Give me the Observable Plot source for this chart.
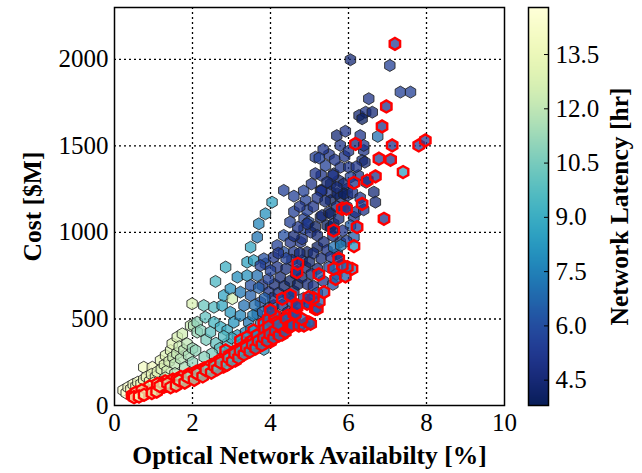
<!DOCTYPE html>
<html><head><meta charset="utf-8">
<script src="https://cdn.jsdelivr.net/npm/d3@7"></script>
<script src="https://cdn.jsdelivr.net/npm/@observablehq/plot@0.6"></script>
<style>
html,body{margin:0;padding:0;background:#fff;}
#wrap{position:relative;width:642px;height:473px;overflow:hidden;}
#main{position:absolute;left:0;top:0;}
#bar{position:absolute;left:520px;top:0;}
svg text{font-family:"Liberation Serif",serif;}
[aria-label$="axis label"] text{font-weight:bold;font-size:25.5px;}
</style></head><body><div id="wrap"><div id="main"></div><div id="bar"></div></div>
<script>
const xTicks = [0, 2, 4, 6, 8, 10];
const yTicks = [0, 500, 1000, 1500, 2000];
const latencyTicks = [4.5, 6.0, 7.5, 9.0, 10.5, 12.0, 13.5];
const latencyDomain = [3.8, 14.8];

// [availability %, cost $M, latency hr] — designs not on the front (black edge)
const dominated = [
  [0.22,88,14.3],[0.3,72,14.5],[0.35,105,14.1],[0.42,95,14.2],[0.48,122,13.9],[0.55,110,13.8],
  [0.6,135,13.7],[0.68,125,13.6],[0.75,150,13.5],[0.75,221,13.9],[0.97,221,13.8],[0.82,165,13.4],
  [0.9,140,13.3],[0.95,180,13.2],[1.05,165,13.0],[1.1,195,12.9],[1.18,260,13.3],[1.2,210,12.8],
  [1.28,235,12.7],[1.31,289,12.9],[1.35,200,12.5],[1.4,255,12.6],[1.44,318,12.8],[1.48,357,13.1],
  [1.5,280,12.3],[1.55,240,12.0],[1.6,300,12.2],[1.61,395,12.7],[1.66,340,12.4],[1.7,270,11.8],
  [1.74,414,12.5],[1.78,320,11.9],[1.86,357,12.0],[1.9,290,11.5],[1.95,462,12.3],[1.99,588,12.8],
  [2.0,330,11.3],[2.03,462,11.6],[2.08,318,11.0],[2.12,424,11.2],[2.12,481,11.0],
  [1.0,130,12.8],[1.3,160,12.2],[1.55,185,11.8],[1.8,220,11.5],[2.0,250,11.0],
  [2.21,434,10.8],[2.29,578,10.2],[2.33,510,10.0],[2.35,380,10.5],[2.46,424,9.8],[2.55,481,9.3],
  [2.55,568,9.6],[2.59,717,9.4],[2.6,360,10.0],[2.72,453,9.0],[2.76,578,8.7],[2.8,636,8.6],
  [2.85,800,9.0],[2.89,434,8.8],[2.97,539,8.2],[2.97,674,8.0],[3.02,617,12.5],[3.06,481,8.1],
  [3.15,405,8.2],[3.15,742,7.9],[3.23,520,7.6],[3.23,655,7.2],[3.32,578,7.0],[3.36,424,7.6],
  [3.40,751,8.0],[3.40,828,8.6],[3.44,481,7.2],[3.49,915,8.7],[3.57,838,8.5],[3.66,973,7.1],
  [3.70,1050,7.6],[3.87,1108,8.0],[4.04,1175,8.6],[2.7,330,9.8],[2.9,360,9.2],[3.0,390,8.8],
  [2.5,300,10.5],[2.3,280,10.8],[2.8,400,9.5],[3.83,324,8.0],[3.3,360,8.5],
  [3.49,636,6.5],[3.49,694,6.0],[3.66,751,7.0],[3.87,819,5.5],[3.79,694,5.0],[3.96,655,5.0],
  [3.74,597,6.0],[3.66,530,6.2],[4.08,578,5.0],[4.17,520,5.5],[3.91,501,5.5],[3.83,848,6.0],
  [3.74,809,5.5],[4.17,800,5.0],[4.08,857,5.0],[4.34,886,6.0],[4.17,925,5.5],[4.34,983,6.0],
  [4.51,944,5.0],[4.60,886,5.0],[4.81,838,5.0],[4.77,944,5.0],[4.81,963,5.0],[4.86,1021,5.5],
  [4.86,1079,5.5],[4.94,886,4.0],[4.98,1060,6.0],[5.03,1002,5.0],[4.94,1050,5.0],[5.15,1031,4.0],
  [5.20,983,4.5],[5.20,915,4.0],[5.20,790,4.5],[5.28,1088,4.5],[5.32,1098,4.5],[5.37,944,4.5],
  [5.45,896,5.0],[5.45,1040,4.0],[5.50,1117,4.5],[5.54,1031,4.0],[5.54,1108,4.0],[5.62,1050,4.5],
  [5.71,877,4.5],[5.79,944,4.5],[4.90,1185,5.5],[4.94,1127,5.5],[5.28,1243,5.0],[5.32,1243,5.0],
  [5.54,1233,5.0],[5.54,1185,4.0],[5.75,1300,4.5],[5.79,1204,4.5],[5.97,1252,5.0],[5.71,1224,4.0],
  [5.97,1214,4.5],[5.54,1281,4.0],[5.88,1281,4.5],[5.62,1339,4.5],[5.41,1387,5.5],[5.79,1377,5.0],
  [5.15,1435,5.5],[5.79,1503,5.0],[4.34,1243,5.5],[6.14,1088,5.0],[6.05,1040,6.5],[6.14,973,6.5],
  [6.18,1117,5.0],[5.88,1224,4.0],[6.65,1233,4.5],[6.69,1175,4.5],[6.39,1131,5.0],[6.39,1474,5.0],
  [6.35,1416,4.5],[6.42,1406,4.5],[5.60,1329,5.0],[6.25,1329,5.0],[6.01,1377,5.0],[5.30,1239,5.0],
  [3.95,560,5.5],[4.05,620,5.0],[4.1,700,4.5],[4.2,650,4.5],[4.25,740,4.5],[4.3,580,5.0],
  [4.35,690,4.2],[4.4,790,4.5],[4.45,640,4.2],[4.5,720,4.0],[4.55,840,4.5],[4.6,660,4.5],
  [4.65,760,4.2],[4.7,700,4.0],[4.75,880,4.5],[4.8,740,4.2],[4.9,800,4.5],[4.95,700,4.5],
  [5.0,830,4.2],[5.05,760,4.5],[5.1,880,4.5],[5.1,690,5.0],[5.3,850,4.5],[5.35,720,5.0],
  [5.5,800,5.5],[5.6,700,6.0],[5.55,860,5.0],[5.7,760,5.5],[3.85,620,6.5],[3.95,730,5.5],
  [4.0,780,5.5],[3.7,680,6.5],[3.6,580,7.0],[3.55,520,7.5],[3.8,540,6.5],[4.0,480,7.0],
  [4.15,460,7.5],[3.75,470,7.5],[4.3,500,6.0],[4.45,540,5.0],[4.55,600,5.5],[4.25,440,7.0],
  [4.5,480,6.5],[3.5,440,8.0],[3.6,400,8.5],[4.6,540,6.0],[4.85,620,5.5],[5.0,590,6.0],
  [5.2,650,6.5],[4.4,850,5.5],[4.2,880,5.0],[4.6,980,4.5],[4.7,1030,5.0],[4.5,1060,5.5],
  [4.6,1120,5.5],[4.75,1150,5.0],[5.1,1150,5.0],[5.2,1200,5.0],[5.4,1180,4.5],[5.7,1150,4.5],
  [5.95,1150,5.0],[5.75,1080,4.5],[5.85,1010,5.0],[5.95,950,5.5],[5.6,980,4.5],[5.7,1260,4.5],
  [5.5,1450,5.0],[5.65,1420,5.0],[5.9,1440,5.0],[6.0,1470,5.0],[5.7,1560,4.5],[6.05,1320,5.5],
  [6.1,1230,5.0],[6.2,1380,5.0],[6.3,1200,5.0],[6.45,1290,4.5],[5.3,1330,5.0],[5.45,1290,4.5],
  [5.35,1480,5.0],[5.25,1430,5.5],[5.15,1340,5.0],[5.05,1280,5.0],[4.85,1240,5.5],[4.6,1210,5.5],
  [6.3,1560,5.0],[5.92,1585,5.0],[6.05,1998,4.5],[7.06,1965,5.5],[7.33,1811,5.5],[7.59,1811,5.5],
  [6.52,1773,5.0],[6.27,1676,4.5],[6.44,1695,5.0],[6.61,1695,4.5],[6.35,1657,4.0],[6.75,1555,7.0],
  [6.39,1503,5.0],[5.62,915,7.0],[5.8,925,7.5]
];

// [availability %, cost $M, latency hr] — front designs (red edge)
const paretoFront = [
  [0.45,58,13.8],[0.52,62,13.8],[0.6,60,13.6],[0.66,68,13.6],[0.72,72,13.5],[0.8,70,13.5],
  [0.86,80,13.3],[0.93,85,13.2],[1.0,92,13.0],[1.05,88,12.9],[1.12,98,12.8],[1.2,104,12.6],
  [1.27,108,12.5],[1.33,115,12.4],[1.4,118,12.3],[1.47,124,12.2],[1.55,128,12.0],[1.62,134,11.9],
  [1.7,140,11.8],[1.77,144,11.6],[1.85,150,11.5],[1.92,156,11.4],[2.0,160,11.2],[2.07,168,11.0],
  [2.15,175,10.9],[2.22,180,10.8],[2.3,190,10.6],[2.37,196,10.5],[2.45,205,10.3],[2.52,212,10.2],
  [2.6,222,10.0],[2.67,230,9.9],[2.75,240,9.7],[2.82,248,9.6],[2.9,258,9.4],[2.97,268,9.3],
  [3.05,276,9.1],[3.12,285,9.0],[3.2,295,8.8],[3.27,305,8.7],[3.35,315,8.5],[3.42,322,8.4],
  [3.5,332,8.2],[3.57,340,8.1],[3.65,352,8.0],[3.72,360,7.8],[3.8,370,7.7],[3.87,378,7.6],
  [3.95,388,7.4],[4.02,396,7.3],[4.1,405,7.2],[4.18,415,7.0],[4.25,425,6.9],[4.32,432,6.8],
  [4.4,442,6.7],
  [0.9,110,13.0],[1.1,125,12.7],[1.3,140,12.4],[1.5,150,12.1],[1.7,165,11.8],[1.9,180,11.5],
  [2.1,195,11.1],[2.3,215,10.7],[2.5,235,10.3],[2.7,260,9.9],[2.85,285,9.6],[3.0,300,9.3],
  [3.15,320,9.0],[3.3,340,8.7],[3.45,360,8.4],[3.6,380,8.1],[3.75,395,7.8],[3.9,415,7.5],
  [4.05,430,7.2],[4.2,450,7.0],[3.7,345,7.9],[4.0,370,7.4],[4.3,410,6.9],[3.1,260,9.1],
  [2.8,225,9.7],[2.85,318,9.0],[3.23,376,8.5],[3.57,433,8.0],[3.83,474,7.5],[3.4,395,8.3],
  [3.95,500,7.2],[4.1,520,7.0],
  [0.55,75,13.7],[0.7,88,13.5],[1.25,122,12.6],[1.6,150,12.0],[1.95,175,11.4],[2.2,200,10.9],
  [2.4,222,10.5],[2.6,245,10.1],[2.95,290,9.4],[3.25,330,8.8],[3.5,370,8.3],[3.65,405,8.0],
  [3.85,440,7.6],[4.15,480,7.1],[4.35,470,6.8],[3.95,455,7.4],[3.4,350,8.5],[4.45,520,6.8],
  [0.5,48,13.8],[0.63,52,13.7],[0.76,62,13.5],[0.96,72,13.2],[1.08,80,13.0],[1.16,112,12.8],
  [1.36,128,12.5],[1.44,105,12.3],[1.58,115,12.1],[1.66,145,12.0],[1.8,132,11.7],[1.88,165,11.5],
  [2.04,148,11.2],[2.12,185,11.0],[2.26,168,10.8],[2.34,205,10.6],[2.48,190,10.4],[2.56,228,10.2],
  [2.64,210,10.0],[2.72,248,9.9],[2.88,235,9.6],[2.92,275,9.5],[3.02,255,9.3],[3.08,300,9.2],
  [3.18,275,9.0],[3.22,315,8.9],[3.32,295,8.7],[3.38,335,8.6],[3.47,312,8.4],[3.53,352,8.3],
  [3.62,330,8.1],[3.68,372,8.0],[3.78,350,7.8],[3.82,392,7.7],[3.92,372,7.5],[3.98,412,7.4],
  [4.08,388,7.3],[4.12,432,7.2],[4.22,405,7.0],[4.28,448,6.9],[4.38,425,6.8],[4.45,455,6.7],
  [4.0,549,6.0],[4.2,470,7.0],[4.4,500,6.5],[4.51,462,6.5],[4.56,462,6.5],[4.73,462,6.5],
  [4.86,462,6.5],[4.98,481,6.5],[5.03,472,6.5],[4.8,500,6.5],[4.60,530,6.0],[4.64,530,6.0],
  [4.68,568,5.5],[4.68,578,5.5],[4.94,588,5.5],[5.15,559,6.0],[5.20,559,6.0],[5.25,600,6.5],
  [5.1,620,6.0],[4.98,626,5.5],[4.30,617,5.5],[4.51,636,5.5],[5.37,655,6.0],[5.67,732,6.5],
  [5.92,746,6.5],[5.24,757,6.0],[4.68,771,5.0],[5.62,790,6.5],[6.09,790,7.0],[5.97,800,7.0],
  [5.84,809,6.5],[4.70,819,5.0],[5.75,848,5.0],[6.14,921,8.0],[5.62,1011,4.5],[6.22,1031,5.5],
  [6.91,1079,5.0],[5.84,1137,5.0],[5.95,1137,5.5],[6.35,1165,5.0],[6.14,1287,5.0],[6.48,1300,5.0],
  [6.69,1324,5.0],[7.40,1349,8.5],[6.78,1426,5.5],[7.08,1420,5.0],[6.18,1512,4.5],[7.12,1503,5.0],
  [7.80,1503,5.5],[7.97,1532,5.5],[6.86,1613,5.0],[6.97,1728,5.0],[7.19,2090,5.5]
];

const colorScale = {type: "linear", scheme: "YlGnBu", reverse: true, domain: latencyDomain};

const main = Plot.plot({
  width: 520, height: 473,
  marginLeft: 114, marginRight: 16, marginTop: 7, marginBottom: 68,
  style: {fontFamily: "Liberation Serif", fontSize: "25px", background: "white", color: "black", overflow: "visible"},
  x: {domain: [0, 10]},
  y: {domain: [0, 2300]},
  color: colorScale,
  marks: [
    Plot.gridX(xTicks.slice(1, -1), {stroke: "black", strokeOpacity: 1, strokeWidth: 1.3, strokeDasharray: "2,3"}),
    Plot.gridY(yTicks.slice(1), {stroke: "black", strokeOpacity: 1, strokeWidth: 1.3, strokeDasharray: "2,3"}),
    Plot.axisX(xTicks, {tickSize: 0, tickPadding: 8, label: "Optical Network Availabilty [%]", labelAnchor: "center", labelArrow: "none", labelOffset: 58}),
    Plot.axisY(yTicks, {tickSize: 0, tickPadding: 6, tickFormat: d3.format("d"), label: "Cost [$M]", labelAnchor: "center", labelArrow: "none", labelOffset: 92}),
    Plot.dot(dominated, {x: d => d[0], y: d => d[1], fill: d => d[2], symbol: "hexagon", r: 5.2, fillOpacity: 0.75, stroke: "#222", strokeOpacity: 0.85, strokeWidth: 1}),
    Plot.dot(paretoFront, {x: d => d[0], y: d => d[1], fill: d => d[2], symbol: "hexagon", r: 5.2, fillOpacity: 0.75, stroke: "red", strokeWidth: 2.4}),
    Plot.frame({stroke: "black", strokeWidth: 1.5})
  ]
});
document.getElementById("main").appendChild(main);

const bar = Plot.plot({
  width: 122, height: 473,
  marginLeft: 8, marginRight: 94, marginTop: 7, marginBottom: 68,
  style: {fontFamily: "Liberation Serif", fontSize: "25px", background: "white", color: "black", overflow: "visible"},
  x: {domain: [0, 1], axis: null},
  y: {domain: latencyDomain},
  color: colorScale,
  marks: [
    Plot.raster({x1: 0, x2: 1, y1: latencyDomain[0], y2: latencyDomain[1], width: 1, height: 400, fill: (x, y) => y, imageRendering: "auto"}),
    Plot.ruleY(latencyTicks, {x1: 0.8, x2: 1, stroke: "black", strokeWidth: 1}),
    Plot.axisY(latencyTicks, {anchor: "right", tickSize: 0, tickPadding: 7, tickFormat: d3.format(".1f"), label: "Network Latency [hr]", labelAnchor: "center", labelArrow: "none", labelOffset: 79}),
    Plot.frame({stroke: "black", strokeWidth: 1.5})
  ]
});
document.getElementById("bar").appendChild(bar);
</script></body></html>
